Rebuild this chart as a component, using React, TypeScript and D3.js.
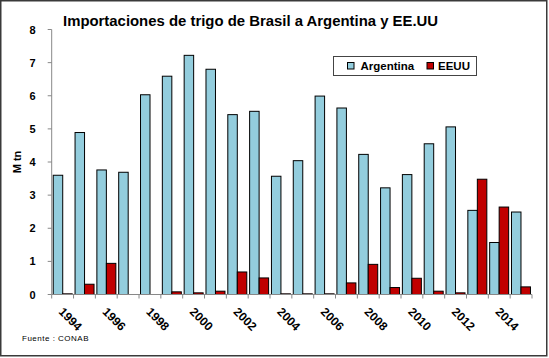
import React from "react";
import * as d3 from "d3";

const years = ["1994","1995","1996","1997","1998","1999","2000","2001","2002","2003","2004","2005","2006","2007","2008","2009","2010","2011","2012","2013","2014","2015"];
const argentina = [3.6,4.89,3.76,3.69,6.03,6.59,7.22,6.8,5.43,5.53,3.57,4.04,5.99,5.63,4.23,3.22,3.62,4.55,5.06,2.54,1.57,2.49];
const eeuu = [0.02,0.31,0.94,0,0,0.08,0.05,0.1,0.68,0.5,0.02,0.02,0.02,0.35,0.91,0.21,0.49,0.1,0.05,3.48,2.64,0.23];
const yTicks = [0,1,2,3,4,5,6,7,8];
const seriesNames = ["Argentina", "EEUU"];
const colors = ["#93CDDD", "#C00000"];

export default function App() {
  const W = 549, H = 358;
  const left = 51.7, right = 532, top = 29.5, bottom = 294.5;
  const x = d3.scaleBand<string>().domain(years).range([left, right]).paddingInner(0.13).paddingOuter(0.07);
  const xc = d3.scaleBand<string>().domain(years).range([left, right]);
  const y = d3.scaleLinear().domain([0, 8]).range([bottom, top]);
  const sub = d3.scaleBand<number>().domain([0, 1]).range([0, x.bandwidth()]);
  const font = "'Liberation Sans', Arial, sans-serif";
  return (
    <svg width={W} height={H} style={{ position: "absolute", left: 0, top: 0, background: "#fff" }} fontFamily={font}>
      <rect x={0.75} y={0.75} width={W - 3} height={H - 3} fill="#fff" stroke="#3a3a3a" strokeWidth={1.5} />
      <text x={63} y={25.5} fontSize={14.9} fontWeight="bold" fill="#000">Importaciones de trigo de Brasil a Argentina y EE.UU</text>
      {/* y axis */}
      <line x1={left} x2={left} y1={top} y2={bottom} stroke="#888" />
      {yTicks.map(t => (
        <g key={t}>
          <line x1={left - 4} x2={left} y1={y(t)} y2={y(t)} stroke="#888" />
          <text x={left - 16} y={y(t) + 4} textAnchor="end" fontSize={11} fontWeight="bold">{t}</text>
        </g>
      ))}
      <text transform={`translate(21,${(top + bottom) / 2}) rotate(-90)`} textAnchor="middle" fontSize={11} fontWeight="bold">M tn</text>
      {/* bars */}
      {years.map((yr, i) => (
        <g key={yr}>
          {[argentina[i], eeuu[i]].map((v, s) => (
            <rect key={s} x={(x(yr) as number) + (sub(s) as number)} y={y(v)} width={sub.bandwidth()} height={bottom - y(v)} fill={colors[s]} stroke="#000" strokeWidth={1} />
          ))}
        </g>
      ))}
      {/* x axis */}
      <line x1={left} x2={right} y1={bottom} y2={bottom} stroke="#888" />
      <line x1={left} x2={left} y1={bottom} y2={bottom + 4} stroke="#888" />
      {years.map((yr) => (
        <line key={yr} x1={(xc(yr) as number) + xc.bandwidth()} x2={(xc(yr) as number) + xc.bandwidth()} y1={bottom} y2={bottom + 4} stroke="#888" />
      ))}
      {years.map((yr, i) => i % 2 === 0 ? (
        <text key={yr} transform={`translate(${(xc(yr) as number) + xc.bandwidth() / 2 - 4.5},${bottom + 18}) rotate(45)`} fontSize={12} fontWeight="bold">{yr}</text>
      ) : null)}
      {/* legend */}
      <rect x={333.5} y={56.5} width={143} height={19} fill="#fff" stroke="#444" strokeWidth={1} />
      <rect x={347.5} y={62.5} width={6.5} height={6.5} fill={colors[0]} stroke="#000" />
      <text x={360.5} y={70} fontSize={11.5} fontWeight="bold">{seriesNames[0]}</text>
      <rect x={427} y={62.5} width={6.5} height={6.5} fill={colors[1]} stroke="#000" />
      <text x={438} y={70} fontSize={11.5} fontWeight="bold">{seriesNames[1]}</text>
      <text x={22} y={341} fontSize={8} letterSpacing={0.5}>Fuente : CONAB</text>
    </svg>
  );
}
